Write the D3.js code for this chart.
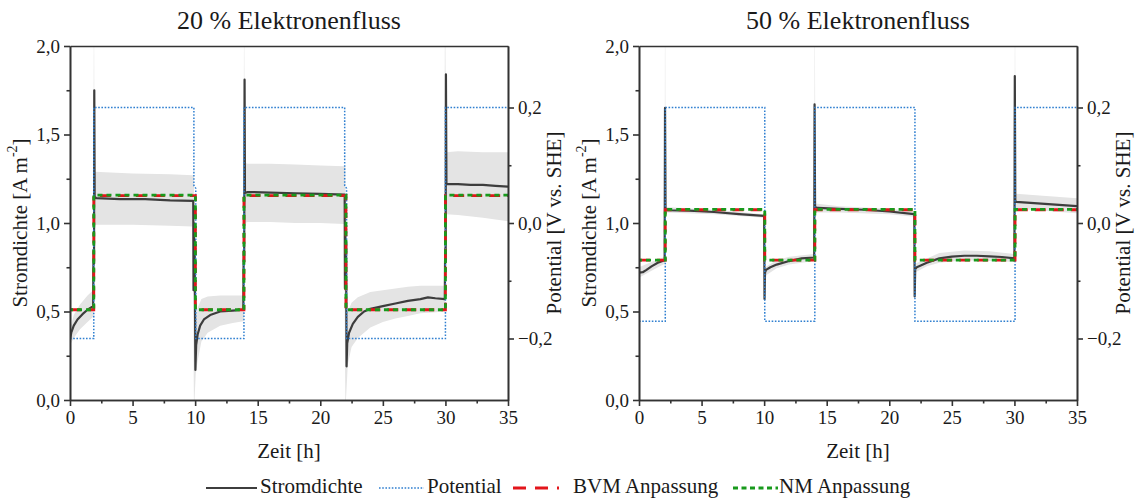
<!DOCTYPE html>
<meta charset="utf-8">
<script src="https://cdn.jsdelivr.net/npm/d3@7"></script>
<style>
  body { margin: 0; background: #fff; }
</style>
<div id="chart"></div>
<script>
// ---- data ----
const titles = ["20 % Elektronenfluss", "50 % Elektronenfluss"]

const xTicks = [0, 5, 10, 15, 20, 25, 30, 35]
const xMinor = [2.5, 7.5, 12.5, 17.5, 22.5, 27.5, 32.5]
const yTicks = [0, 0.5, 1, 1.5, 2]
const yMinor = [0.25, 0.75, 1.25, 1.75]
const potTicks = [-0.2, 0, 0.2]
const potMinor = [-0.1, 0.1]

// [Zeit h, Stromdichte A m-2]
const strom20 = [
  [0, 0.34], [0.1, 0.38], [0.3, 0.42], [0.6, 0.455], [1.0, 0.485], [1.4, 0.51], [1.85, 0.53],
  [1.87, 0.76], [1.9, 0.85], [1.92, 0.77], [1.94, 1.75], [1.97, 1.15], [2.1, 1.14], [4, 1.135], [6, 1.135], [8, 1.128], [9.85, 1.125],
  [9.87, 0.62], [9.9, 1.0], [9.93, 0.63], [9.96, 0.9], [10.02, 0.17], [10.08, 0.31], [10.2, 0.37], [10.4, 0.42], [10.7, 0.455], [11.2, 0.48], [12, 0.5], [13, 0.505], [13.85, 0.51],
  [13.87, 0.76], [13.9, 0.85], [13.92, 0.78], [13.95, 1.81], [13.98, 1.17], [14.2, 1.175], [16, 1.172], [18, 1.168], [20, 1.165], [21.95, 1.16],
  [21.97, 0.63], [22.0, 1.0], [22.03, 0.64], [22.06, 0.9], [22.1, 0.19], [22.15, 0.32], [22.3, 0.38], [22.6, 0.43], [23, 0.47], [23.5, 0.5], [24, 0.515], [25, 0.53], [26, 0.545], [27, 0.56], [28, 0.57], [28.6, 0.58], [29.2, 0.575], [29.95, 0.57],
  [29.97, 0.78], [30.0, 0.86], [30.02, 0.78], [30.04, 1.84], [30.08, 1.22], [31, 1.22], [32, 1.215], [33, 1.215], [34, 1.21], [35, 1.205]
]
// [Zeit, untere, obere Grenze]
const band20 = [
  [0, 0.31, 0.40], [0.3, 0.35, 0.48], [0.8, 0.40, 0.54], [1.4, 0.44, 0.59], [1.85, 0.47, 0.62],
  [1.9, 0.5, 2.0], [1.93, 0.99, 2.0], [1.96, 0.99, 1.29], [5, 0.99, 1.28], [8, 0.985, 1.275], [9.8, 0.98, 1.27],
  [9.9, 0.0, 1.27], [9.95, 0.0, 1.0], [10.05, 0.15, 0.45], [10.2, 0.22, 0.52], [10.5, 0.33, 0.57], [11, 0.38, 0.585], [12, 0.42, 0.59], [13, 0.435, 0.59], [13.85, 0.445, 0.59],
  [13.9, 0.45, 2.0], [13.93, 1.0, 2.0], [13.96, 1.0, 1.34], [14.2, 1.005, 1.335], [16, 1.005, 1.335], [18, 1.0, 1.33], [20, 1.0, 1.325], [21.9, 0.995, 1.32],
  [22.0, 0.0, 1.32], [22.05, 0.0, 0.4], [22.2, 0.2, 0.5], [22.5, 0.3, 0.55], [23, 0.35, 0.58], [24, 0.41, 0.61], [25, 0.44, 0.62], [26, 0.46, 0.63], [27, 0.475, 0.64], [28, 0.49, 0.645], [29, 0.495, 0.645], [29.9, 0.5, 0.645],
  [29.95, 0.5, 2.0], [30.0, 1.05, 2.0], [30.05, 1.05, 1.40], [31, 1.045, 1.405], [33, 1.03, 1.40], [35, 1.01, 1.40]
]
// [Zeit, Potential V vs. SHE]
const pot20 = [
  [0, -0.2], [1.9, -0.2], [1.9, 0.2], [9.9, 0.2], [9.9, 0.065], [10.05, 0.06], [10.05, -0.2],
  [13.9, -0.2], [13.9, 0.2], [21.95, 0.2], [21.95, 0.065], [22.1, 0.06], [22.1, -0.2], [30, -0.2], [30, 0.2], [35, 0.2]
]
const bvm20 = [
  [0, 0.51], [1.9, 0.51], [1.9, 1.155], [10.02, 1.155], [10.02, 0.51], [13.9, 0.51], [13.9, 1.155],
  [22.05, 1.155], [22.05, 0.51], [30, 0.51], [30, 1.155], [35, 1.155]
]
const nm20 = [
  [0, 0.51], [1.9, 0.51], [1.9, 1.157], [10.02, 1.157], [10.02, 0.51], [13.9, 0.51], [13.9, 1.157],
  [22.05, 1.157], [22.05, 0.51], [30, 0.51], [30, 1.157], [35, 1.157]
]

const strom50 = [
  [0, 0.72], [0.3, 0.722], [0.6, 0.735], [1.0, 0.755], [1.5, 0.775], [2.05, 0.79],
  [2.08, 1.65], [2.12, 1.08], [2.3, 1.072], [4, 1.07], [6, 1.062], [8, 1.05], [10.0, 1.04],
  [10.03, 0.57], [10.07, 0.72], [10.15, 0.735], [10.5, 0.75], [11, 0.765], [12, 0.785], [13, 0.8], [14.0, 0.805],
  [14.03, 1.67], [14.07, 1.09], [14.3, 1.085], [16, 1.08], [18, 1.075], [20, 1.065], [22.0, 1.05],
  [22.03, 0.585], [22.07, 0.74], [22.2, 0.75], [23, 0.775], [24, 0.8], [25, 0.81], [26, 0.815], [27, 0.815], [28, 0.812], [29, 0.808], [30.0, 0.8],
  [30.03, 1.83], [30.07, 1.12], [31, 1.115], [33, 1.105], [35, 1.095]
]
const band50 = [
  [0, 0.69, 0.75], [1, 0.73, 0.78], [2.05, 0.77, 0.81], [2.07, 0.77, 2.0], [2.1, 1.06, 2.0], [2.13, 1.06, 1.09],
  [6, 1.05, 1.075], [10, 1.03, 1.05], [10.03, 0.55, 1.05], [10.07, 0.70, 0.75], [11, 0.745, 0.79], [12, 0.765, 0.81], [14, 0.785, 0.825],
  [14.03, 0.785, 2.0], [14.06, 1.06, 2.0], [14.1, 1.06, 1.11], [16, 1.06, 1.095], [20, 1.05, 1.08], [22, 1.035, 1.065],
  [22.03, 0.56, 1.065], [22.07, 0.72, 0.77], [23, 0.755, 0.80], [24, 0.775, 0.83], [26, 0.79, 0.845], [28, 0.785, 0.84], [30, 0.78, 0.825],
  [30.03, 0.78, 2.0], [30.06, 1.08, 2.0], [30.1, 1.08, 1.165], [32, 1.07, 1.155], [35, 1.055, 1.14]
]
const pot50 = [
  [0, -0.17], [2.1, -0.17], [2.1, 0.2], [10.05, 0.2], [10.05, -0.17], [14.05, -0.17], [14.05, 0.2],
  [22.05, 0.2], [22.05, -0.17], [30.05, -0.17], [30.05, 0.2], [35, 0.2]
]
const bvm50 = [
  [0, 0.79], [2.1, 0.79], [2.1, 1.075], [10.05, 1.075], [10.05, 0.79], [14.05, 0.79], [14.05, 1.075],
  [22.05, 1.075], [22.05, 0.79], [30.05, 0.79], [30.05, 1.075], [35, 1.075]
]
const nm50 = [
  [0, 0.79], [2.1, 0.79], [2.1, 1.077], [10.05, 1.077], [10.05, 0.79], [14.05, 0.79], [14.05, 1.077],
  [22.05, 1.077], [22.05, 0.79], [30.05, 0.79], [30.05, 1.077], [35, 1.077]
]

// ---- drawing ----
const W = 1137, H = 499
const yTop = 46, yBot = 400
const FONT = '"Liberation Serif", "Times New Roman", serif'
const svg = d3.select("#chart").append("svg")
  .attr("width", W).attr("height", H)
  .style("font-family", FONT)

const comma = v => d3.format(".1f")(v).replace(".", ",").replace("-", "\u2212")

const cStrom = "#3d3d3d", cPot = "#2f7fd0", cBvm = "#e3151b", cNm = "#189a1c", cBand = "#e4e4e4", cAxis = "#333", cText = "#1a1a1a"

function panel(x0, x1, title, strom, band, pot, bvm, nm, idx) {
  const x = d3.scaleLinear().domain([0, 35]).range([x0, x1])
  const y = d3.scaleLinear().domain([0, 2]).range([yBot, yTop])
  const yp = d3.scaleLinear().domain([-0.3065, 0.3065]).range([yBot, yTop])
  const g = svg.append("g")

  g.append("clipPath").attr("id", "clip" + idx)
    .append("rect").attr("x", x0).attr("y", yTop).attr("width", x1 - x0).attr("height", yBot - yTop)
  const plot = g.append("g").attr("clip-path", `url(#clip${idx})`)

  plot.append("path").datum(band)
    .attr("d", d3.area().x(d => x(d[0])).y0(d => y(d[1])).y1(d => y(d[2])))
    .attr("fill", cBand)

  const line = d3.line().x(d => x(d[0])).y(d => y(d[1]))
  plot.append("path").datum(strom).attr("d", line)
    .attr("fill", "none").attr("stroke", cStrom).attr("stroke-width", 2.2).attr("stroke-linejoin", "round")

  plot.append("path").datum(pot)
    .attr("d", d3.line().x(d => x(d[0])).y(d => yp(d[1])))
    .attr("fill", "none").attr("stroke", cPot).attr("stroke-width", 1.5).attr("stroke-dasharray", "1.6,1.6")

  plot.append("path").datum(bvm).attr("d", line)
    .attr("fill", "none").attr("stroke", cBvm).attr("stroke-width", 2.8).attr("stroke-dasharray", "11,7")
  plot.append("path").datum(nm).attr("d", line)
    .attr("fill", "none").attr("stroke", cNm).attr("stroke-width", 2.8).attr("stroke-dasharray", "5,4")
    .attr("stroke-dashoffset", 2)

  // axes
  const ax = (sel) => {
    sel.selectAll("path, line").attr("stroke", cAxis).attr("stroke-width", 1.6)
    sel.selectAll("text").style("font-family", FONT).attr("font-size", 19).attr("fill", cText)
  }
  g.append("g").attr("transform", `translate(0,${yBot})`)
    .call(d3.axisBottom(x).tickValues(xMinor).tickSize(3.5).tickSizeOuter(0).tickFormat(""))
    .call(ax)
  g.append("g").attr("transform", `translate(0,${yBot})`)
    .call(d3.axisBottom(x).tickValues(xTicks).tickSize(6).tickSizeOuter(0).tickPadding(5))
    .call(ax)
  g.append("g").attr("transform", `translate(0,${yTop})`)
    .call(d3.axisTop(x).tickValues([]).tickSizeOuter(0))
    .call(ax)
  g.append("g").attr("transform", `translate(${x0},0)`)
    .call(d3.axisLeft(y).tickValues(yMinor).tickSize(3.5).tickSizeOuter(0).tickFormat(""))
    .call(ax)
  g.append("g").attr("transform", `translate(${x0},0)`)
    .call(d3.axisLeft(y).tickValues(yTicks).tickSize(6).tickSizeOuter(0).tickPadding(4).tickFormat(comma))
    .call(ax)
  g.append("g").attr("transform", `translate(${x1},0)`)
    .call(d3.axisRight(yp).tickValues(potMinor).tickSize(3.5).tickSizeOuter(0).tickFormat(""))
    .call(ax)
  g.append("g").attr("transform", `translate(${x1},0)`)
    .call(d3.axisRight(yp).tickValues(potTicks).tickSize(6).tickSizeOuter(0).tickPadding(4).tickFormat(comma))
    .call(ax)

  // titles
  g.append("text").attr("x", (x0 + x1) / 2).attr("y", 23).attr("text-anchor", "middle")
    .attr("dominant-baseline", "middle").attr("font-size", 26).attr("fill", cText).text(title)
  g.append("text").attr("x", (x0 + x1) / 2).attr("y", 453).attr("text-anchor", "middle")
    .attr("dominant-baseline", "middle").attr("font-size", 21).attr("fill", cText).text("Zeit [h]")

  const yl = g.append("text").attr("transform", `translate(${x0 - 48},${(yTop + yBot) / 2}) rotate(-90)`)
    .attr("text-anchor", "middle").attr("dominant-baseline", "middle").attr("font-size", 21).attr("fill", cText)
  yl.append("tspan").text("Stromdichte [A m")
  yl.append("tspan").attr("font-size", 14).attr("dy", -8).text("-2")
  yl.append("tspan").attr("dy", 8).text("]")

  g.append("text").attr("transform", `translate(${x1 + 48},${(yTop + yBot) / 2}) rotate(-90)`)
    .attr("text-anchor", "middle").attr("dominant-baseline", "middle").attr("font-size", 21).attr("fill", cText)
    .text("Potential [V vs. SHE]")
}

panel(70, 508, titles[0], strom20, band20, pot20, bvm20, nm20, 0)
panel(639, 1077, titles[1], strom50, band50, pot50, bvm50, nm50, 1)

// legend
const legY = 488
const leg = svg.append("g")
const items = [
  {x: 206, w: 51, label: "Stromdichte", color: cStrom, sw: 2.2, dash: null},
  {x: 379, w: 45, label: "Potential", color: cPot, sw: 1.5, dash: "1.6,1.6"},
  {x: 513, w: 46, label: "BVM Anpassung", color: cBvm, sw: 2.8, dash: "13,9", gap: 14},
  {x: 733, w: 45, label: "NM Anpassung", color: cNm, sw: 2.8, dash: "5,3.5", gap: 1}
]
items.forEach(it => {
  leg.append("line").attr("x1", it.x).attr("x2", it.x + it.w).attr("y1", legY).attr("y2", legY)
    .attr("stroke", it.color).attr("stroke-width", it.sw).attr("stroke-dasharray", it.dash)
  leg.append("text").attr("x", it.x + it.w + (it.gap || 3)).attr("y", legY)
    .attr("dominant-baseline", "middle").attr("font-size", 21).attr("fill", cText).text(it.label)
})
</script>
